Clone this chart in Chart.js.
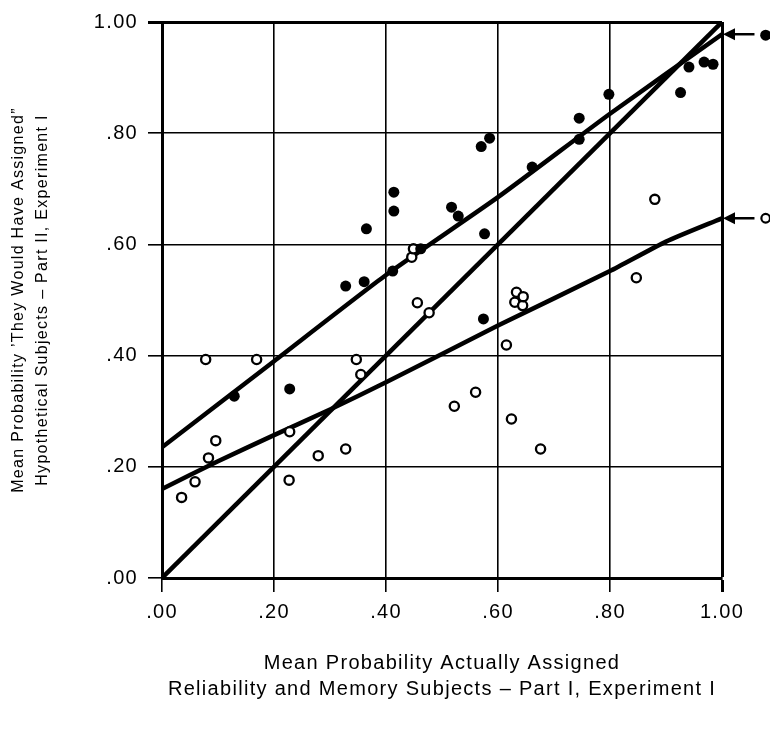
<!DOCTYPE html>
<html>
<head>
<meta charset="utf-8">
<script src="https://cdn.jsdelivr.net/npm/chart.js@4.4.1/dist/chart.umd.min.js"></script>
<style>
  body { margin: 0; background: #fff; }
  canvas { display: block; }
</style>
</head>
<body>
<canvas id="chart" width="770" height="729"></canvas>
<script>
// Hypothetical subjects (filled circles)
const filledX = [0.129, 0.228, 0.328, 0.361, 0.365, 0.412, 0.414, 0.414, 0.462, 0.517, 0.529, 0.570, 0.585, 0.574, 0.576, 0.661, 0.745, 0.745, 0.798, 0.926, 0.941, 0.968, 0.984];
const filledY = [0.327, 0.340, 0.525, 0.533, 0.628, 0.552, 0.660, 0.694, 0.592, 0.667, 0.651, 0.776, 0.791, 0.466, 0.619, 0.739, 0.789, 0.827, 0.870, 0.873, 0.919, 0.928, 0.924];

// Actual subjects (open circles)
const openX = [0.035, 0.059, 0.078, 0.083, 0.096, 0.169, 0.227, 0.228, 0.279, 0.328, 0.347, 0.355, 0.446, 0.449, 0.456, 0.477, 0.522, 0.560, 0.615, 0.624, 0.630, 0.633, 0.644, 0.645, 0.676, 0.847, 0.880];
const openY = [0.145, 0.173, 0.393, 0.216, 0.247, 0.393, 0.176, 0.263, 0.220, 0.232, 0.393, 0.366, 0.577, 0.592, 0.495, 0.477, 0.309, 0.334, 0.419, 0.286, 0.496, 0.514, 0.490, 0.506, 0.232, 0.540, 0.681];

// fitted curves
const fitFilledX = [0, 0.2, 0.4, 0.6, 0.8, 1.0];
const fitFilledY = [0.235, 0.39, 0.545, 0.685, 0.835, 0.978];
const fitOpenX = [0, 0.1, 0.2, 0.3, 0.4, 0.6, 0.8, 0.9, 1.0];
const fitOpenY = [0.16, 0.21, 0.257, 0.303, 0.352, 0.454, 0.552, 0.605, 0.647];
const identityX = [0, 1];
const identityY = [0, 1];

// keys to the right of the plot, arrows pointing at the curve ends
const keyX = 1.078;
const keyFilledY = 0.978;
const keyOpenY = 0.647;
const arrowFrom = 1.058;
const arrowTo = 1.0;

const tickValues = [0, 0.2, 0.4, 0.6, 0.8, 1.0];

function pts(xs, ys) {
    return xs.map(function(x, i) { return { x: x, y: ys[i] }; });
}

function tickLabel(v) {
    return v >= 1 ? '1.00' : v.toFixed(2).replace(/^0/, '');
}

const FONT = "'Liberation Sans', Arial, Helvetica, sans-serif";

const styleText = {
    id: 'styleText',
    beforeDraw: function(chart) {
        chart.ctx.letterSpacing = '1.3px';
    }
};

const keys = {
    id: 'keys',
    afterDatasetsDraw: function(chart) {
        const ctx = chart.ctx;
        const xs = chart.scales.x, ys = chart.scales.y;
        ctx.save();
        ctx.strokeStyle = '#000';
        ctx.fillStyle = '#000';
        [keyFilledY, keyOpenY].forEach(function(v, i) {
            const y = ys.getPixelForValue(v);
            const x0 = xs.getPixelForValue(arrowFrom);
            const x1 = xs.getPixelForValue(arrowTo);
            const xk = xs.getPixelForValue(keyX);
            ctx.lineWidth = 2.5;
            ctx.beginPath();
            ctx.moveTo(x0, y);
            ctx.lineTo(x1 + 10, y);
            ctx.stroke();
            ctx.beginPath();
            ctx.moveTo(x1 + 1, y);
            ctx.lineTo(x1 + 13, y - 6);
            ctx.lineTo(x1 + 13, y + 6);
            ctx.closePath();
            ctx.fill();
            ctx.beginPath();
            if (i === 0) {
                ctx.arc(xk, y + 1, 5.5, 0, Math.PI * 2);
                ctx.fill();
            } else {
                ctx.lineWidth = 2.2;
                ctx.arc(xk, y, 4.3, 0, Math.PI * 2);
                ctx.stroke();
            }
        });
        ctx.restore();
    }
};

const gridWidth = function(c) {
    return c.tick && c.tick.value === 1 ? 3 : 1.6;
};

new Chart(document.getElementById('chart').getContext('2d'), {
    type: 'scatter',
    data: {
        datasets: [
            {
                data: pts(filledX, filledY),
                pointRadius: 5.5,
                pointBackgroundColor: '#000',
                pointBorderWidth: 0
            },
            {
                data: pts(openX, openY),
                pointRadius: 4.6,
                pointBackgroundColor: '#fff',
                pointBorderColor: '#000',
                pointBorderWidth: 2.3
            },
            {
                data: pts(fitFilledX, fitFilledY),
                showLine: true,
                borderColor: '#000',
                borderWidth: 4.5,
                pointRadius: 0,
                tension: 0.2
            },
            {
                data: pts(fitOpenX, fitOpenY),
                showLine: true,
                borderColor: '#000',
                borderWidth: 4.5,
                pointRadius: 0,
                tension: 0.2
            },
            {
                data: pts(identityX, identityY),
                showLine: true,
                borderColor: '#000',
                borderWidth: 4.5,
                pointRadius: 0
            }
        ]
    },
    options: {
        responsive: false,
        animation: false,
        layout: { padding: { left: 0, right: 48, top: 15, bottom: 0 } },
        plugins: {
            legend: { display: false },
            tooltip: { enabled: false }
        },
        scales: {
            x: {
                type: 'linear',
                min: 0,
                max: 1,
                afterFit: function(s) { s.height = 151; },
                afterBuildTicks: function(s) { s.ticks = tickValues.map(function(v) { return { value: v }; }); },
                ticks: {
                    color: '#000',
                    padding: 8,
                    font: { family: FONT, size: 20 },
                    callback: tickLabel
                },
                grid: {
                    color: '#000',
                    lineWidth: gridWidth,
                    tickLength: 14,
                    tickColor: '#000'
                },
                border: { color: '#000', width: 3 },
                title: {
                    display: true,
                    text: ['Mean Probability Actually Assigned', 'Reliability and Memory Subjects \u2013 Part I, Experiment I'],
                    color: '#000',
                    font: { family: FONT, size: 20, lineHeight: 1.3 },
                    padding: { top: 0, bottom: 27 }
                }
            },
            y: {
                type: 'linear',
                min: 0,
                max: 1,
                afterFit: function(s) { s.width = 162; },
                afterBuildTicks: function(s) { s.ticks = tickValues.map(function(v) { return { value: v }; }); },
                ticks: {
                    color: '#000',
                    padding: 10,
                    font: { family: FONT, size: 20 },
                    callback: tickLabel
                },
                grid: {
                    color: '#000',
                    lineWidth: gridWidth,
                    tickLength: 14,
                    tickColor: '#000'
                },
                border: { color: '#000', width: 3 },
                title: {
                    display: true,
                    text: ['Mean Probability \u2019They Would Have Assigned\u201d', 'Hypothetical Subjects \u2013 Part II, Experiment I'],
                    color: '#000',
                    font: { family: FONT, size: 16, lineHeight: 1.5 },
                    padding: { top: 7, bottom: 0 }
                }
            }
        }
    },
    plugins: [styleText, keys]
});
</script>
</body>
</html>
